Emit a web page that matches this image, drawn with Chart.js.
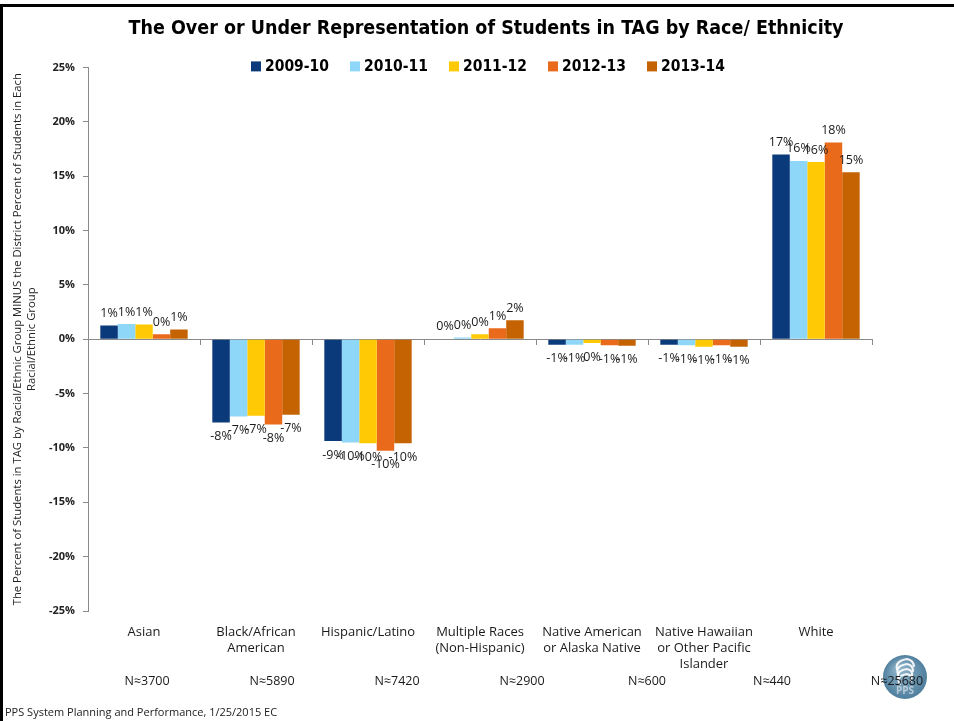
<!DOCTYPE html>
<html>
<head>
<meta charset="utf-8">
<title>Over or Under Representation of Students in TAG</title>
<script src="https://cdn.jsdelivr.net/npm/chart.js@4.4.1/dist/chart.umd.min.js"></script>
<style>
  html, body { margin: 0; padding: 0; background: #ffffff; }
  #wrap { width: 954px; height: 721px; position: relative; }
  canvas { display: block; }
</style>
</head>
<body>
<div id="wrap"><canvas id="chart" width="954" height="721"></canvas></div>
<script>
// Racial / ethnic groups along the x axis
const categories = [
  'Asian',
  ['Black/African', 'American'],
  'Hispanic/Latino',
  ['Multiple Races', '(Non-Hispanic)'],
  ['Native American', 'or Alaska Native'],
  ['Native Hawaiian', 'or Other Pacific', 'Islander'],
  'White'
];

// School years shown in the legend
const years = ['2009-10', '2010-11', '2011-12', '2012-13', '2013-14'];

// Percent in TAG minus district percent, per group (percentage points)
const y2009_10 = [1.26, -7.66, -9.37, 0.05, -0.50, -0.50, 17.00];
const y2010_11 = [1.40, -7.10, -9.50, 0.15, -0.50, -0.55, 16.40];
const y2011_12 = [1.35, -7.05, -9.56, 0.45, -0.35, -0.70, 16.30];
const y2012_13 = [0.45, -7.85, -10.26, 1.00, -0.55, -0.55, 18.10];
const y2013_14 = [0.90, -6.95, -9.56, 1.75, -0.60, -0.70, 15.35];

// Approximate student counts per group
const groupCounts = ['N≈3700', 'N≈5890', 'N≈7420', 'N≈2900', 'N≈600', 'N≈440', 'N≈25680'];

// Value axis ticks
const yMin = -25;
const yMax = 25;
const yStep = 5;

const yearColors = ['#0B3A7A', '#8FD7F8', '#FFCA05', '#EA6A1C', '#C56303'];
const seriesValues = [y2009_10, y2010_11, y2011_12, y2012_13, y2013_14];

const TITLE_FONT = "'Liberation Sans Narrow', 'DejaVu Sans Condensed', 'Roboto Condensed', sans-serif";
const BODY_FONT = "'Open Sans', 'DejaVu Sans', sans-serif";
const AXIS_GREY = '#8a8a8a';

// Data labels rounded the way the spreadsheet does (half away from zero)
function roundedPercent(v) {
  const r = Math.sign(v) * Math.round(Math.abs(v));
  return (r === 0 ? 0 : r) + '%';
}

const valueLabels = {
  id: 'valueLabels',
  afterDatasetsDraw(chart) {
    const ctx = chart.ctx;
    ctx.save();
    ctx.font = '12.5px ' + BODY_FONT;
    ctx.fillStyle = '#1a1a1a';
    ctx.textAlign = 'center';
    ctx.textBaseline = 'middle';
    chart.data.datasets.forEach((ds, i) => {
      const meta = chart.getDatasetMeta(i);
      meta.data.forEach((bar, j) => {
        const v = ds.data[j];
        const y = v >= 0 ? bar.y - 12 : bar.y + 14;
        ctx.fillText(roundedPercent(v), bar.x, y);
      });
    });
    ctx.restore();
  }
};

// Legend row, count row, footer, logo and slide frame
const decorations = {
  id: 'decorations',
  afterLayout(chart) {
    const t = chart.titleBlock;
    if (t) {
      const dx = (chart.width / 2 + 9) - (t.left + t.right) / 2;
      t.left += dx;
      t.right += dx;
    }
  },
  afterDraw(chart) {
    const ctx = chart.ctx;
    const area = chart.chartArea;
    ctx.save();

    // legend
    ctx.font = 'bold 15.5px ' + TITLE_FONT;
    ctx.textBaseline = 'middle';
    ctx.textAlign = 'left';
    const box = 10, gap = 4, spacing = 21;
    const widths = chart.data.datasets.map(ds => ctx.measureText(ds.label).width);
    const total = widths.reduce((a, w) => a + box + gap + w, 0) + spacing * (widths.length - 1);
    let x = chart.width / 2 + 11 - total / 2;
    const ly = area.top - 1;
    chart.data.datasets.forEach((ds, i) => {
      ctx.fillStyle = ds.backgroundColor;
      ctx.fillRect(x, ly - box / 2, box, box);
      ctx.fillStyle = '#000000';
      ctx.fillText(ds.label, x + box + gap, ly + 1);
      x += box + gap + widths[i] + spacing;
    });

    // logo
    const cx = 905, cy = 677, r = 22;
    const g = ctx.createRadialGradient(cx - 6, cy - 8, 3, cx, cy, r);
    g.addColorStop(0, '#8db2c8');
    g.addColorStop(1, '#4f7f9e');
    ctx.fillStyle = g;
    ctx.beginPath();
    ctx.arc(cx, cy, r, 0, Math.PI * 2);
    ctx.fill();
    ctx.strokeStyle = 'rgba(255,255,255,0.9)';
    ctx.lineWidth = 2.2;
    ctx.lineCap = 'round';
    for (let k = 0; k < 4; k++) {
      ctx.beginPath();
      const oy = cy - 14 + k * 5;
      ctx.moveTo(cx - 8 + k, oy + 6);
      ctx.quadraticCurveTo(cx - 10, oy - 2, cx + 2, oy - 4);
      ctx.quadraticCurveTo(cx + 8, oy - 3, cx + 9 - k, oy + 3);
      ctx.stroke();
    }
    ctx.fillStyle = 'rgba(255,255,255,0.55)';
    ctx.font = 'bold 10px ' + BODY_FONT;
    ctx.textAlign = 'center';
    ctx.fillText('PPS', cx, cy + 14);

    // group counts
    ctx.font = '12.5px ' + BODY_FONT;
    ctx.fillStyle = '#1a1a1a';
    ctx.textAlign = 'center';
    groupCounts.forEach((txt, i) => {
      ctx.fillText(txt, area.left + 59 + i * 125, 681);
    });

    // footer
    ctx.font = '11px ' + BODY_FONT;
    ctx.textAlign = 'left';
    ctx.fillStyle = '#222222';
    ctx.fillText('PPS System Planning and Performance, 1/25/2015 EC', 5, 713);

    // slide frame
    ctx.fillStyle = '#000000';
    ctx.fillRect(0, 4, chart.width, 3);
    ctx.fillRect(0, 4, 3, chart.height - 4);
    ctx.restore();
  }
};

new Chart(document.getElementById('chart'), {
  type: 'bar',
  data: {
    labels: categories,
    datasets: years.map((yr, i) => ({
      label: yr,
      data: seriesValues[i],
      backgroundColor: yearColors[i],
      borderWidth: 0,
      xAxisID: 'x',
      yAxisID: 'y',
      categoryPercentage: 0.78,
      barPercentage: 1.0
    }))
  },
  options: {
    responsive: false,
    devicePixelRatio: 1,
    animation: false,
    layout: { padding: { left: 0, right: 82, top: 0, bottom: 0 } },
    plugins: {
      legend: { display: false },
      tooltip: { enabled: false },
      title: {
        display: true,
        text: 'The Over or Under Representation of Students in TAG by Race/ Ethnicity',
        color: '#000000',
        font: { family: TITLE_FONT, size: 19.5, weight: 'bold', lineHeight: 1.2 },
        padding: { top: 17, bottom: 27 }
      }
    },
    scales: {
      x: {
        type: 'category',
        position: 'bottom',
        grid: { display: false },
        border: { display: false },
        ticks: {
          color: '#1a1a1a',
          font: { family: BODY_FONT, size: 13, lineHeight: 1.23 },
          padding: 5,
          maxRotation: 0,
          autoSkip: false
        },
        afterFit(scale) { scale.height = 110; }
      },
      x0: {
        type: 'category',
        position: { y: 0 },
        offset: true,
        grid: { offset: true, drawOnChartArea: false, drawTicks: true, tickLength: 5, color: AXIS_GREY },
        border: { display: true, color: AXIS_GREY, width: 1 },
        ticks: { display: false }
      },
      y: {
        type: 'linear',
        position: 'left',
        min: yMin,
        max: yMax,
        ticks: {
          stepSize: yStep,
          color: '#222222',
          font: { family: BODY_FONT, size: 11, weight: 'bold' },
          padding: 8,
          callback: v => v + '%'
        },
        grid: { drawOnChartArea: false, drawTicks: true, tickLength: 5, color: AXIS_GREY },
        border: { display: true, color: AXIS_GREY, width: 1 },
        title: {
          display: true,
          text: [
            'The Percent of Students in TAG by Racial/Ethnic Group MINUS the District Percent of Students in Each',
            'Racial/Ethnic Group'
          ],
          color: '#222222',
          font: { family: BODY_FONT, size: 11.3, lineHeight: 1.25 },
          padding: { top: 11, bottom: 0 }
        },
        afterFit(scale) { scale.width = 88; }
      }
    }
  },
  plugins: [valueLabels, decorations]
});
</script>
</body>
</html>
